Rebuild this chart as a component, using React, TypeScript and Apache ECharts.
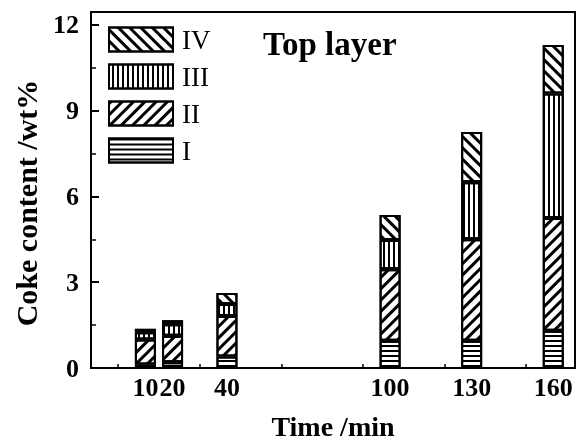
import React, { useEffect, useRef } from "react";
import * as echarts from "echarts";

const times = [10, 20, 40, 100, 130, 160];
const tickLabels = [10, 20, 40, 100, 130, 160];
const seriesI = [0.12, 0.2, 0.4, 0.95, 0.95, 1.3];
const seriesII = [0.88, 0.93, 1.42, 2.5, 3.55, 3.95];
const seriesIII = [0.25, 0.4, 0.42, 1.03, 2.0, 4.35];
const seriesIV = [0.12, 0.14, 0.38, 0.87, 1.75, 1.7];
const yTicks = [0, 3, 6, 9, 12];

const FONT = "'Liberation Serif', 'Times New Roman', serif";

const decalH = { symbol: "rect", symbolSize: 1, dashArrayX: [1, 0], dashArrayY: [1.6, 2.6], rotation: 0, color: "#000" };
const decalV = { symbol: "rect", symbolSize: 1, dashArrayX: [1, 0], dashArrayY: [1.6, 2.6], rotation: Math.PI / 2, color: "#000" };
const decalSlash = { symbol: "rect", symbolSize: 1, dashArrayX: [1, 0], dashArrayY: [2.4, 4.6], rotation: -Math.PI / 4, color: "#000" };
const decalBack = { symbol: "rect", symbolSize: 1, dashArrayX: [1, 0], dashArrayY: [2.4, 4.6], rotation: Math.PI / 4, color: "#000" };

function mk(name: string, vals: number[], decal: any) {
  return {
    name,
    type: "bar",
    stack: "total",
    barWidth: 21,
    dimensions: ["value", "time"],
    encode: { x: 1, y: 0 },
    data: times.map((t, i) => [vals[i], t]),
    itemStyle: { color: "#fff", borderColor: "#000", borderWidth: 2, decal },
    emphasis: { disabled: true },
  };
}

export default function App() {
  const ref = useRef<HTMLDivElement>(null);
  useEffect(() => {
    const chart = echarts.init(ref.current!, undefined, { renderer: "svg" });
    chart.setOption({
      animation: false,
      grid: { left: 91, right: 4, top: 12, bottom: 76, show: true, borderColor: "#000", borderWidth: 2, backgroundColor: "transparent" },
      legend: {
        orient: "vertical",
        left: 108,
        top: 26,
        padding: 0,
        itemWidth: 64,
        itemHeight: 24,
        itemGap: 10,
        icon: "rect",
        data: ["IV", "III", "II", "I"],
        textStyle: { fontFamily: FONT, fontSize: 27, color: "#000", lineHeight: 26, padding: [0, 0, 0, 4] },
      },
      xAxis: {
        type: "value",
        min: -10,
        max: 168,
        name: "Time /min",
        nameLocation: "middle",
        nameGap: 44,
        nameTextStyle: { fontFamily: FONT, fontSize: 28, fontWeight: "bold", color: "#000" },
        axisLine: { show: true, onZero: false, lineStyle: { color: "#000", width: 2 } },
        axisTick: { show: true, inside: true, length: 4, lineStyle: { color: "#000", width: 1.5 }, customValues: [0, 30, 60, 90, 120, 150] },
        axisLabel: { customValues: tickLabels, margin: 6, fontFamily: FONT, fontSize: 26, fontWeight: "bold", color: "#000" },
        splitLine: { show: false },
      },
      yAxis: {
        type: "value",
        min: 0,
        max: 12.45,
        interval: 3,
        name: "Coke content /wt%",
        nameLocation: "middle",
        nameGap: 50,
        nameTextStyle: { fontFamily: FONT, fontSize: 30, fontWeight: "bold", color: "#000", padding: [0, 26, 0, 0] },
        axisLine: { show: true, onZero: false, lineStyle: { color: "#000", width: 2 } },
        axisTick: { show: true, inside: true, length: 8, lineStyle: { color: "#000", width: 2 }, customValues: yTicks },
        minorTick: { show: true, splitNumber: 2, length: 5, lineStyle: { color: "#000", width: 1.5 } },
        axisLabel: { customValues: yTicks, margin: 12, fontFamily: FONT, fontSize: 26, fontWeight: "bold", color: "#000" },
        splitLine: { show: false },
      },
      graphic: [
        {
          type: "text",
          left: 263,
          top: 27,
          style: { text: "Top layer", fontFamily: FONT, fontSize: 33, fontWeight: "bold", fill: "#000" },
        },
      ],
      series: [
        mk("I", seriesI, decalH),
        mk("II", seriesII, decalSlash),
        mk("III", seriesIII, decalV),
        mk("IV", seriesIV, decalBack),
      ],
    });
    return () => chart.dispose();
  }, []);
  return <div ref={ref} style={{ position: "fixed", left: 0, top: 0, width: 579, height: 445 }} />;
}
